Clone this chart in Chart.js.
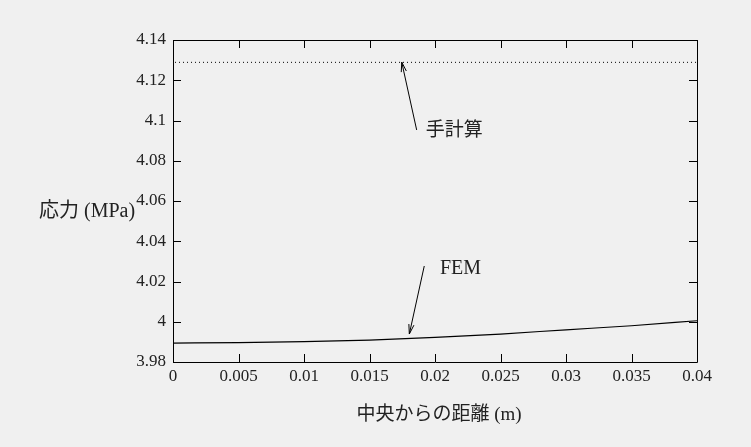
<!DOCTYPE html>
<html>
<head>
<meta charset="utf-8">
<script src="https://cdn.jsdelivr.net/npm/chart.js@4.4.0/dist/chart.umd.min.js"></script>
<style>
  html, body { margin: 0; padding: 0; background: #f0f0f0; }
  #wrap { width: 751px; height: 447px; }
</style>
</head>
<body>
<div id="wrap"><canvas id="stress-chart" width="751" height="447"></canvas></div>
<script>
// Distance from the centre (m) and FEM stress (MPa)
const distances = [0, 0.005, 0.01, 0.015, 0.02, 0.025, 0.03, 0.035, 0.04];
const femStress = [3.9894, 3.9896, 3.9901, 3.9909, 3.9922, 3.9939, 3.9960, 3.9980, 4.0005];
// Hand calculation: constant value over the whole range
const handDistances = [0, 0.04];
const handStress = [4.1289, 4.1289];
// Tick labels
const xTicks = [0, 0.005, 0.01, 0.015, 0.02, 0.025, 0.03, 0.035, 0.04];
const yTicks = [3.98, 4, 4.02, 4.04, 4.06, 4.08, 4.1, 4.12, 4.14];

const serif = "'Liberation Serif', 'Noto Sans CJK JP', serif";
const textColor = '#222';

const toPoints = (xs, ys) => xs.map((x, i) => ({ x, y: ys[i] }));

// Frame with inward ticks on all four sides, arrows, notes and axis titles
const framePlugin = {
  id: 'frameNotes',
  afterDraw(c, args, opts) {
    const { ctx, chartArea: a } = c;
    const xs = c.scales.x;
    const ys = c.scales.y;
    const tl = 8;
    ctx.save();
    ctx.strokeStyle = '#000';
    ctx.lineWidth = 1;
    ctx.beginPath();
    ctx.rect(a.left + 0.5, a.top + 0.5, a.right - a.left, a.bottom - a.top);
    xTicks.forEach((v) => {
      const px = Math.round(xs.getPixelForValue(v)) + 0.5;
      ctx.moveTo(px, a.bottom); ctx.lineTo(px, a.bottom - tl);
      ctx.moveTo(px, a.top); ctx.lineTo(px, a.top + tl);
    });
    yTicks.forEach((v) => {
      const py = Math.round(ys.getPixelForValue(v)) + 0.5;
      ctx.moveTo(a.left, py); ctx.lineTo(a.left + tl, py);
      ctx.moveTo(a.right, py); ctx.lineTo(a.right - tl, py);
    });
    ctx.stroke();

    // Arrows
    opts.arrows.forEach((ar) => {
      const x1 = xs.getPixelForValue(ar.from[0]);
      const y1 = ys.getPixelForValue(ar.from[1]);
      const x2 = xs.getPixelForValue(ar.to[0]);
      const y2 = ys.getPixelForValue(ar.to[1]);
      const ang = Math.atan2(y2 - y1, x2 - x1);
      const len = 10;
      const spread = Math.PI / 12;
      ctx.beginPath();
      ctx.moveTo(x1, y1); ctx.lineTo(x2, y2);
      ctx.moveTo(x2, y2);
      ctx.lineTo(x2 - len * Math.cos(ang - spread), y2 - len * Math.sin(ang - spread));
      ctx.moveTo(x2, y2);
      ctx.lineTo(x2 - len * Math.cos(ang + spread), y2 - len * Math.sin(ang + spread));
      ctx.stroke();
    });

    // Notes
    ctx.fillStyle = textColor;
    ctx.textBaseline = 'middle';
    ctx.textAlign = 'left';
    opts.labels.forEach((lb) => {
      ctx.font = `${lb.size}px ${serif}`;
      ctx.fillText(lb.text, xs.getPixelForValue(lb.x), ys.getPixelForValue(lb.y));
    });

    // Axis titles
    ctx.font = `20px ${serif}`;
    ctx.fillText(opts.yTitle, 39, 212);
    ctx.textAlign = 'center';
    ctx.font = `19px ${serif}`;
    ctx.fillText(opts.xTitle, 439, 415);
    ctx.restore();
  },
};

const ctx = document.getElementById('stress-chart');
// eslint-disable-next-line no-unused-vars
const chart = new Chart(ctx, {
  type: 'scatter',
  data: {
    datasets: [
      {
        label: '手計算',
        data: toPoints(handDistances, handStress),
        showLine: true,
        borderColor: '#000',
        borderWidth: 1,
        borderDash: [1, 3],
        borderDashOffset: -2,
        pointRadius: 0,
      },
      {
        label: 'FEM',
        data: toPoints(distances, femStress),
        showLine: true,
        borderColor: '#000',
        borderWidth: 1.2,
        cubicInterpolationMode: 'monotone',
        pointRadius: 0,
      },
    ],
  },
  options: {
    responsive: false,
    animation: false,
    layout: {
      padding: { top: 40, right: 54, bottom: 0, left: 0 },
    },
    scales: {
      x: {
        type: 'linear',
        min: 0,
        max: 0.04,
        afterBuildTicks: (scale) => { scale.ticks = xTicks.map((value) => ({ value })); },
        afterFit: (scale) => { scale.height = 85; },
        grid: { display: false, drawTicks: false },
        border: { display: false },
        ticks: {
          padding: 4,
          maxRotation: 0,
          autoSkip: false,
          color: textColor,
          font: { family: serif, size: 17 },
          callback: (value) => String(value),
        },
      },
      y: {
        type: 'linear',
        min: 3.98,
        max: 4.14,
        afterBuildTicks: (scale) => { scale.ticks = yTicks.map((value) => ({ value })); },
        afterFit: (scale) => { scale.width = 173; },
        grid: { display: false, drawTicks: false },
        border: { display: false },
        ticks: {
          padding: 7,
          autoSkip: false,
          color: textColor,
          font: { family: serif, size: 17 },
          callback: (value) => String(value),
        },
      },
    },
    plugins: {
      legend: { display: false },
      tooltip: { enabled: false },
      frameNotes: {
        arrows: [
          { from: [0.0186, 4.0953], to: [0.01746, 4.129] },
          { from: [0.01918, 4.0277], to: [0.01804, 3.9939] },
        ],
        labels: [
          { x: 0.0193, y: 4.0950, text: '手計算', size: 19 },
          { x: 0.02038, y: 4.0265, text: 'FEM', size: 20 },
        ],
        yTitle: '応力 (MPa)',
        xTitle: '中央からの距離 (m)',
      },
    },
  },
  plugins: [framePlugin],
});
</script>
</body>
</html>
